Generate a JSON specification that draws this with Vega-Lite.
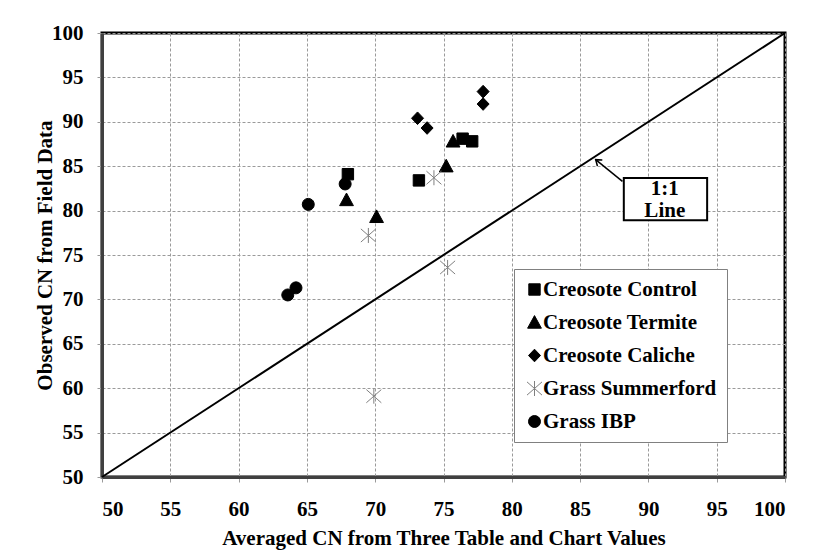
{
  "$schema": "https://vega.github.io/schema/vega-lite/v6.json",
  "autosize": {"type": "none"},
  "padding": {"left": 102, "top": 33, "right": 33, "bottom": 80},
  "width": 683,
  "height": 444,
  "background": "white",
  "datasets": {
    "obs": [
      {"series": "Creosote Control", "avg_cn": 68.0, "obs_cn": 84.1},
      {"series": "Creosote Control", "avg_cn": 73.2, "obs_cn": 83.4},
      {"series": "Creosote Control", "avg_cn": 76.4, "obs_cn": 88.1},
      {"series": "Creosote Control", "avg_cn": 77.1, "obs_cn": 87.8},
      {"series": "Creosote Termite", "avg_cn": 67.9, "obs_cn": 81.2},
      {"series": "Creosote Termite", "avg_cn": 70.1, "obs_cn": 79.3},
      {"series": "Creosote Termite", "avg_cn": 75.2, "obs_cn": 85.0},
      {"series": "Creosote Termite", "avg_cn": 75.7, "obs_cn": 87.8},
      {"series": "Creosote Caliche", "avg_cn": 73.1, "obs_cn": 90.4},
      {"series": "Creosote Caliche", "avg_cn": 73.8, "obs_cn": 89.3},
      {"series": "Creosote Caliche", "avg_cn": 77.9, "obs_cn": 92.0},
      {"series": "Creosote Caliche", "avg_cn": 77.9, "obs_cn": 93.4},
      {"series": "Grass Summerford", "avg_cn": 74.3, "obs_cn": 83.7},
      {"series": "Grass Summerford", "avg_cn": 69.5, "obs_cn": 77.2},
      {"series": "Grass Summerford", "avg_cn": 75.3, "obs_cn": 73.6},
      {"series": "Grass Summerford", "avg_cn": 69.9, "obs_cn": 59.1},
      {"series": "Grass IBP", "avg_cn": 67.8, "obs_cn": 83.0},
      {"series": "Grass IBP", "avg_cn": 65.1, "obs_cn": 80.7},
      {"series": "Grass IBP", "avg_cn": 63.6, "obs_cn": 70.5},
      {"series": "Grass IBP", "avg_cn": 64.2, "obs_cn": 71.3}
    ],
    "one_to_one": [
      {"avg_cn": 50, "obs_cn": 50},
      {"avg_cn": 100, "obs_cn": 100}
    ],
    "callout_arrow": [
      {"x": 88.1, "y": 83.3, "x2": 86.14, "y2": 85.74}
    ],
    "callout_box": [
      {"x": 88.2, "x2": 94.3, "y": 78.9, "y2": 83.67}
    ],
    "callout_text": [
      {"x": 91.2, "y": 82.45, "label": "1:1"},
      {"x": 91.2, "y": 79.95, "label": "Line"}
    ]
  },
  "config": {
    "font": "Liberation Serif",
    "view": {"stroke": "black", "strokeWidth": 3},
    "style": {
      "guide-label": {"font": "Liberation Serif", "fontWeight": "bold", "fontSize": 21, "fill": "black"},
      "guide-title": {"font": "Liberation Serif", "fontWeight": "bold", "fontSize": 21, "fill": "black"}
    },
    "axis": {
      "labelFont": "Liberation Serif",
      "labelFontWeight": "bold",
      "labelFontSize": 21,
      "labelColor": "black",
      "titleFont": "Liberation Serif",
      "titleFontWeight": "bold",
      "titleFontSize": 21,
      "titleColor": "black",
      "grid": true,
      "gridColor": "#9a9a9a",
      "gridDash": [3, 2],
      "gridWidth": 1,
      "tickColor": "#9a9a9a",
      "tickSize": 5,
      "domainColor": "#404040",
      "domainWidth": 3
    },
    "legend": {
      "orient": "none",
      "legendX": 412,
      "legendY": 236,
      "fillColor": "white",
      "strokeColor": "#808080",
      "padding": 10,
      "rowPadding": 11,
      "labelFont": "Liberation Serif, Times New Roman, serif",
      "labelFontWeight": "bold",
      "labelFontSize": 21,
      "labelColor": "black",
      "labelLimit": 400,
      "labelOffset": -2,
      "symbolSize": 144,
      "symbolStrokeWidth": 1
    }
  },
  "encoding": {
    "x": {
      "field": "avg_cn", "type": "quantitative",
      "scale": {"domain": [50, 100], "nice": false, "zero": false},
      "axis": {"values": [50, 55, 60, 65, 70, 75, 80, 85, 90, 95, 100], "title": "Averaged CN from Three Table and Chart Values", "labelPadding": 16, "titlePadding": 8}
    },
    "y": {
      "field": "obs_cn", "type": "quantitative",
      "scale": {"domain": [50, 100], "nice": false, "zero": false},
      "axis": {"values": [50, 55, 60, 65, 70, 75, 80, 85, 90, 95, 100], "title": "Observed CN from Field Data", "labelPadding": 14, "titlePadding": -4}
    }
  },
  "layer": [
    {
      "data": {"name": "one_to_one"},
      "mark": {"type": "line", "color": "black", "strokeWidth": 2}
    },
    {
      "data": {"name": "obs"},
      "mark": {"type": "point", "filled": true, "opacity": 1, "size": 144, "strokeWidth": 1},
      "encoding": {
        "shape": {
          "field": "series", "type": "nominal",
          "scale": {
            "domain": ["Creosote Control", "Creosote Termite", "Creosote Caliche", "Grass Summerford", "Grass IBP"],
            "range": [
              "M-0.95,-0.95H0.95V0.95H-0.95Z",
              "M0,-1.15L1.15,0.95L-1.15,0.95Z",
              "M0,-1.05L1,0L0,1.05L-1,0Z",
              "M-1.25,-1.1L1.25,1.1M-1.25,1.1L1.25,-1.1M0,-1.25V1.25",
              "circle"
            ]
          },
          "legend": {"title": null}
        },
        "color": {
          "field": "series", "type": "nominal",
          "scale": {
            "domain": ["Creosote Control", "Creosote Termite", "Creosote Caliche", "Grass Summerford", "Grass IBP"],
            "range": ["black", "black", "black", "#7f7f7f", "black"]
          },
          "legend": {"title": null}
        },
        "stroke": {
          "field": "series", "type": "nominal",
          "scale": {
            "domain": ["Creosote Control", "Creosote Termite", "Creosote Caliche", "Grass Summerford", "Grass IBP"],
            "range": ["black", "black", "black", "#7f7f7f", "black"]
          },
          "legend": {"title": null}
        }
      }
    },
    {
      "data": {"name": "callout_arrow"},
      "mark": {"type": "rule", "color": "black", "strokeWidth": 1.5},
      "encoding": {
        "x": {"field": "x", "type": "quantitative"},
        "y": {"field": "y", "type": "quantitative"},
        "x2": {"field": "x2"},
        "y2": {"field": "y2"}
      }
    },
    {
      "data": {"name": "callout_arrow"},
      "mark": {"type": "point", "shape": "M-1.3,1.8L0,0L1.3,1.8", "filled": false, "size": 36, "angle": 309, "stroke": "black", "strokeWidth": 1.5, "opacity": 1},
      "encoding": {
        "x": {"field": "x2", "type": "quantitative"},
        "y": {"field": "y2", "type": "quantitative"}
      }
    },
    {
      "data": {"name": "callout_box"},
      "mark": {"type": "rect", "fill": "white", "stroke": "black", "strokeWidth": 2},
      "encoding": {
        "x": {"field": "x", "type": "quantitative"},
        "x2": {"field": "x2"},
        "y": {"field": "y", "type": "quantitative"},
        "y2": {"field": "y2"}
      }
    },
    {
      "data": {"name": "callout_text"},
      "mark": {"type": "text", "font": "Liberation Serif", "fontWeight": "bold", "fontSize": 21, "color": "black", "baseline": "middle", "align": "center"},
      "encoding": {
        "x": {"field": "x", "type": "quantitative"},
        "y": {"field": "y", "type": "quantitative"},
        "text": {"field": "label"}
      }
    }
  ]
}
